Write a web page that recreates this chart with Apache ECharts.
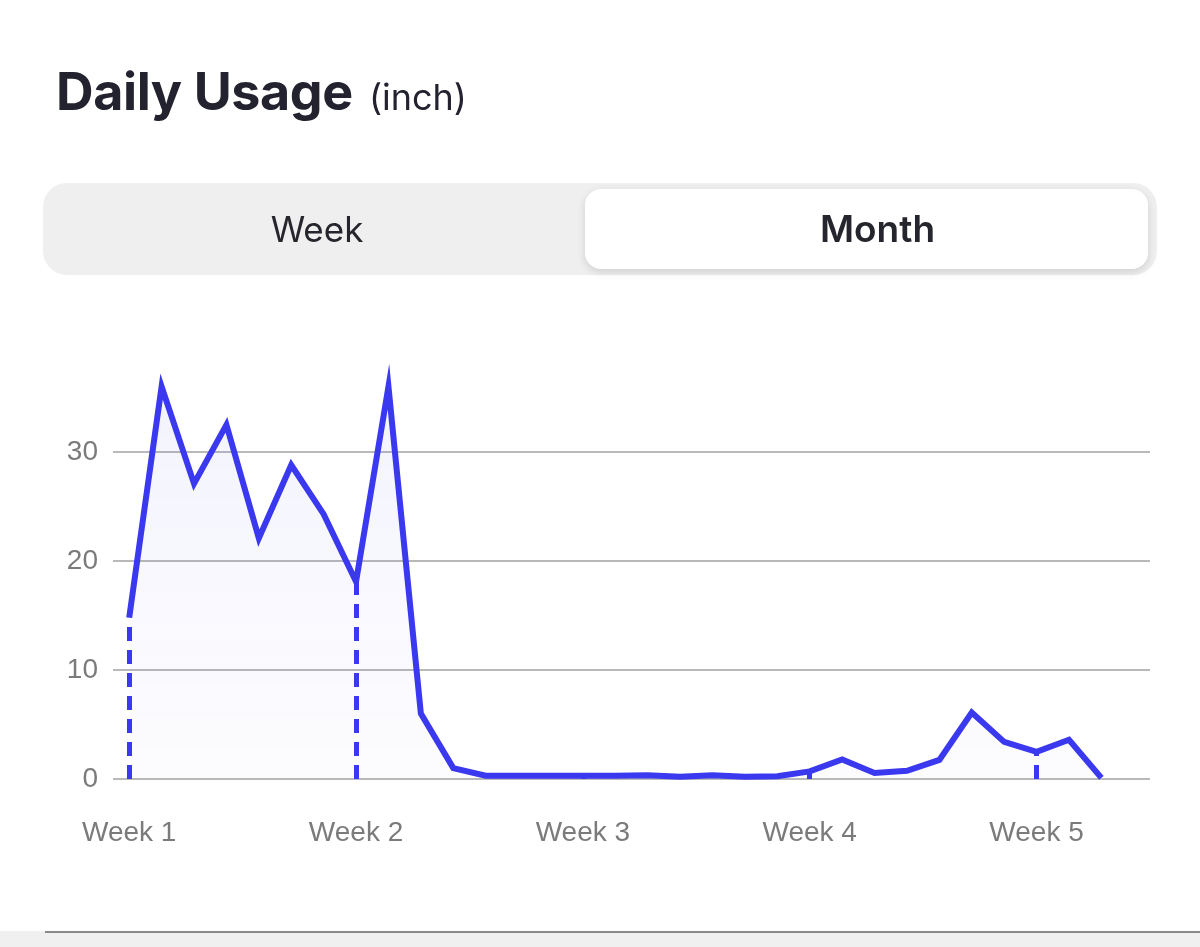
<!DOCTYPE html>
<html>
<head>
<meta charset="utf-8">
<script src="https://cdn.jsdelivr.net/npm/echarts@6/dist/echarts.min.js"></script>
<style>
  html, body { margin: 0; padding: 0; background: #fff; }
  body { width: 1200px; height: 947px; position: relative; overflow: hidden; font-family: Inter, "Noto Sans", sans-serif; }
  #title { position: absolute; left: 56px; top: 60px; color: #23232f; white-space: nowrap; }
  #title b { font-size: 52px; font-weight: 700; letter-spacing: -0.4px; }
  #title span { font-size: 36px; font-weight: 400; margin-left: 16px; }
  .seg { position: absolute; left: 43px; top: 183px; width: 1114px; height: 92px; background: #efefef; border-radius: 24px; }
  .seg .opt { position: absolute; top: 6px; height: 80px; line-height: 80px; text-align: center; font-size: 35px; color: #25252d; }
  .seg .week { left: 6px; width: 536px; }
  .seg .month { left: 542px; width: 563px; background: #fff; border-radius: 16px; font-weight: 600; font-size: 37px;
    box-sizing: border-box; padding-left: 22px; box-shadow: 0 3px 8px rgba(0,0,0,0.13); }
  #chart { position: absolute; left: 0; top: 0; width: 1200px; height: 947px; }
  #foot { position: absolute; left: 0; top: 931px; width: 1200px; height: 16px; background: #f0f0f0; }
  #foot div { position: absolute; left: 45px; right: 0; top: 0; height: 2px; background: #8a8a8a; }
</style>
</head>
<body>
<div id="chart"></div>
<div id="title"><b>Daily Usage</b><span>(inch)</span></div>
<div class="seg">
  <div class="opt week">Week</div>
  <div class="opt month">Month</div>
</div>
<div id="foot"><div></div></div>
<script>
// daily usage for the month, one value per day
const usage = [14.8, 36, 27.1, 32.5, 22.1, 28.8, 24.3, 18.1, 36, 6,
  1.0, 0.3, 0.3, 0.3, 0.3, 0.3, 0.35, 0.2, 0.35, 0.2,
  0.25, 0.7, 1.8, 0.55, 0.75, 1.75, 6.1, 3.4, 2.5, 3.6, 0.1];
const weekDays = [0, 7, 14, 21, 28];
const weekLabels = ['Week 1', 'Week 2', 'Week 3', 'Week 4', 'Week 5'];
const yTicks = [0, 10, 20, 30];

const blue = '#3b39ef';
const chart = echarts.init(document.getElementById('chart'));

chart.setOption({
  animation: false,
  grid: { left: 113, right: 50, top: 343, bottom: 168 },
  xAxis: {
    type: 'value',
    min: -0.5,
    max: 31.5,
    axisLine: { show: false },
    axisTick: { show: false },
    splitLine: { show: false },
    axisLabel: {
      customValues: weekDays,
      formatter: v => weekLabels[weekDays.indexOf(v)],
      margin: 40,
      fontSize: 28,
      color: '#7b7b7b',
      fontFamily: 'Liberation Sans'
    }
  },
  yAxis: {
    type: 'value',
    min: 0,
    max: 40,
    interval: 10,
    axisLine: { show: false },
    axisTick: { show: false },
    axisLabel: {
      showMaxLabel: false,
      formatter: v => (yTicks.indexOf(v) >= 0 ? String(v) : ''),
      margin: 15,
      fontSize: 28,
      color: '#7b7b7b',
      fontFamily: 'Liberation Sans'
    },
    splitLine: { showMaxLine: false, lineStyle: { color: '#a2a2a2', width: 1.5 } }
  },
  series: [{
    type: 'line',
    data: usage.map((v, i) => [i, v]),
    symbol: 'none',
    lineStyle: { color: blue, width: 6, join: 'miter', miterLimit: 8 },
    areaStyle: {
      color: new echarts.graphic.LinearGradient(0, 0, 0, 1, [
        { offset: 0, color: 'rgba(70,70,225,0.09)' },
        { offset: 1, color: 'rgba(70,70,225,0.02)' }
      ])
    },
    markLine: {
      silent: true,
      symbol: 'none',
      label: { show: false },
      lineStyle: { color: blue, width: 5, type: [14, 9] },
      data: weekDays.map(d => [{ coord: [d, 0] }, { coord: [d, usage[d]] }])
    }
  }]
});
</script>
</body>
</html>
